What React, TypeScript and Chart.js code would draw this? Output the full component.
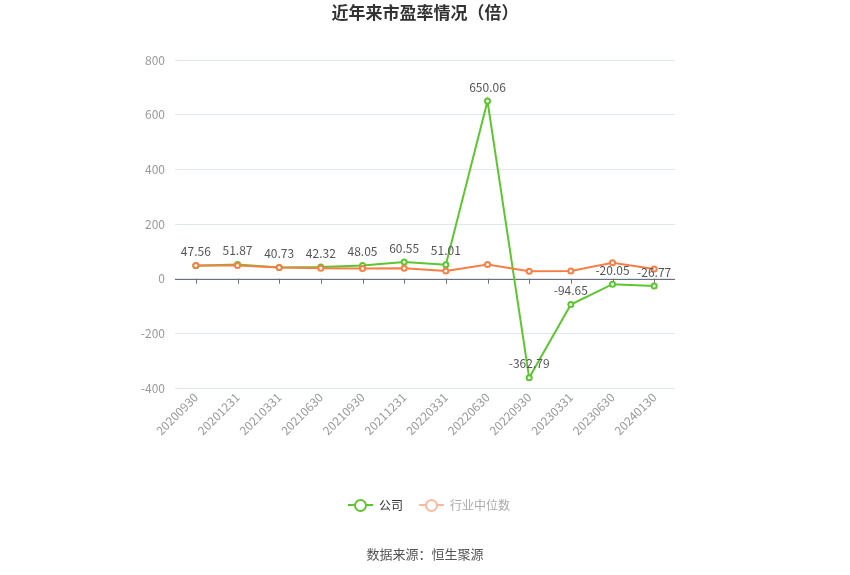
import { useEffect, useRef } from "react";
import { Chart, registerables, Plugin } from "chart.js";

Chart.register(...registerables);

const periods = [
  "20200930", "20201231", "20210331", "20210630", "20210930", "20211231",
  "20220331", "20220630", "20220930", "20230331", "20230630", "20240130"
];
const companyPE = [47.56, 51.87, 40.73, 42.32, 48.05, 60.55, 51.01, 650.06, -362.79, -94.65, -20.05, -26.77];
const industryPE = [48, 48, 41, 38, 37, 38, 28, 52, 27, 28, 58, 35];
const yTicks = [-400, -200, 0, 200, 400, 600, 800];

const GREEN = "#5cc62f";
const ORANGE = "#f77f45";
const FONT = '"Noto Sans CJK SC", "Noto Sans", sans-serif';

// zero axis line with ticks at each category, plus value labels on the company line
const overlay: Plugin<"line"> = {
  id: "overlay",
  beforeDatasetsDraw(chart) {
    const { ctx, chartArea, scales } = chart;
    const y0 = scales.y.getPixelForValue(0);
    ctx.save();
    ctx.strokeStyle = "#6e7079";
    ctx.lineWidth = 1;
    ctx.beginPath();
    ctx.moveTo(chartArea.left, Math.round(y0) + 0.5);
    ctx.lineTo(chartArea.right, Math.round(y0) + 0.5);
    periods.forEach((_, i) => {
      const x = Math.round(scales.x.getPixelForValue(i)) + 0.5;
      ctx.moveTo(x, y0);
      ctx.lineTo(x, y0 + 5);
    });
    ctx.stroke();
    ctx.restore();
  },
  afterDatasetsDraw(chart) {
    const { ctx } = chart;
    const meta = chart.getDatasetMeta(1);
    ctx.save();
    ctx.font = `12px ${FONT}`;
    ctx.fillStyle = "#555";
    ctx.textAlign = "center";
    ctx.textBaseline = "bottom";
    meta.data.forEach((pt, i) => {
      ctx.fillText(companyPE[i].toFixed(2), pt.x, pt.y - 8);
    });
    ctx.restore();
  }
};

export default function App() {
  const canvasRef = useRef<HTMLCanvasElement | null>(null);

  useEffect(() => {
    document.body.style.margin = "0";
    if (!canvasRef.current) return;
    const chart = new Chart(canvasRef.current, {
      type: "line",
      data: {
        labels: periods,
        datasets: [
          {
            label: "行业中位数",
            data: industryPE,
            borderColor: ORANGE,
            backgroundColor: "#fff",
            pointBorderColor: ORANGE,
            pointBackgroundColor: "#fff",
            pointRadius: 2.5,
            pointBorderWidth: 2,
            borderWidth: 2,
            tension: 0,
            order: 0
          },
          {
            label: "公司",
            data: companyPE,
            borderColor: GREEN,
            backgroundColor: "#fff",
            pointBorderColor: GREEN,
            pointBackgroundColor: "#fff",
            pointRadius: 2.5,
            pointBorderWidth: 2,
            borderWidth: 2,
            tension: 0,
            order: 1
          }
        ]
      },
      options: {
        responsive: false,
        animation: false,
        layout: { padding: { top: 60, right: 175, left: 0, bottom: 0 } },
        plugins: {
          legend: { display: false },
          title: { display: false },
          tooltip: { enabled: false }
        },
        scales: {
          x: {
            offset: true,
            grid: { display: false, drawTicks: false },
            border: { display: false },
            ticks: {
              color: "#999",
              font: { size: 12, family: FONT },
              minRotation: 45,
              maxRotation: 45,
              padding: 2,
              autoSkip: false
            },
            afterFit: (s) => {
              s.height = 187;
            }
          },
          y: {
            min: -400,
            max: 800,
            afterBuildTicks: (s) => {
              s.ticks = yTicks.map((v) => ({ value: v }));
            },
            grid: { color: "#e0e6f1", drawTicks: false },
            border: { display: false },
            ticks: {
              color: "#999",
              font: { size: 12, family: FONT },
              padding: 10
            },
            afterFit: (s) => {
              s.width = 175;
            }
          }
        }
      },
      plugins: [overlay]
    });
    return () => chart.destroy();
  }, []);

  return (
    <div style={{ position: "relative", width: 850, height: 575, background: "#fff", fontFamily: FONT }}>
      <canvas ref={canvasRef} width={850} height={575} style={{ display: "block" }} />
      <div
        style={{
          position: "absolute", top: -1, left: 0, width: 850, textAlign: "center",
          fontSize: 17, fontWeight: "bold", color: "#333"
        }}
      >
        近年来市盈率情况（倍）
      </div>
      <div
        style={{
          position: "absolute", top: 496, left: 4, width: 850, display: "flex",
          justifyContent: "center", alignItems: "center", fontSize: 12, gap: 6
        }}
      >
        <LegendIcon color={GREEN} />
        <span style={{ color: "#333", marginRight: 10 }}>公司</span>
        <LegendIcon color="#fbb9a0" />
        <span style={{ color: "#aaa" }}>行业中位数</span>
      </div>
      <div
        style={{
          position: "absolute", top: 544, left: 0, width: 850, textAlign: "center",
          fontSize: 13, color: "#555"
        }}
      >
        数据来源：恒生聚源
      </div>
    </div>
  );
}

function LegendIcon({ color }: { color: string }) {
  return (
    <span style={{ position: "relative", display: "inline-block", width: 25, height: 14 }}>
      <span style={{ position: "absolute", left: 0, top: 6, width: 25, height: 2, background: color }} />
      <span
        style={{
          position: "absolute", left: 6, top: 1, width: 9, height: 9, borderRadius: "50%",
          border: `2px solid ${color}`, background: "#fff"
        }}
      />
    </span>
  );
}
